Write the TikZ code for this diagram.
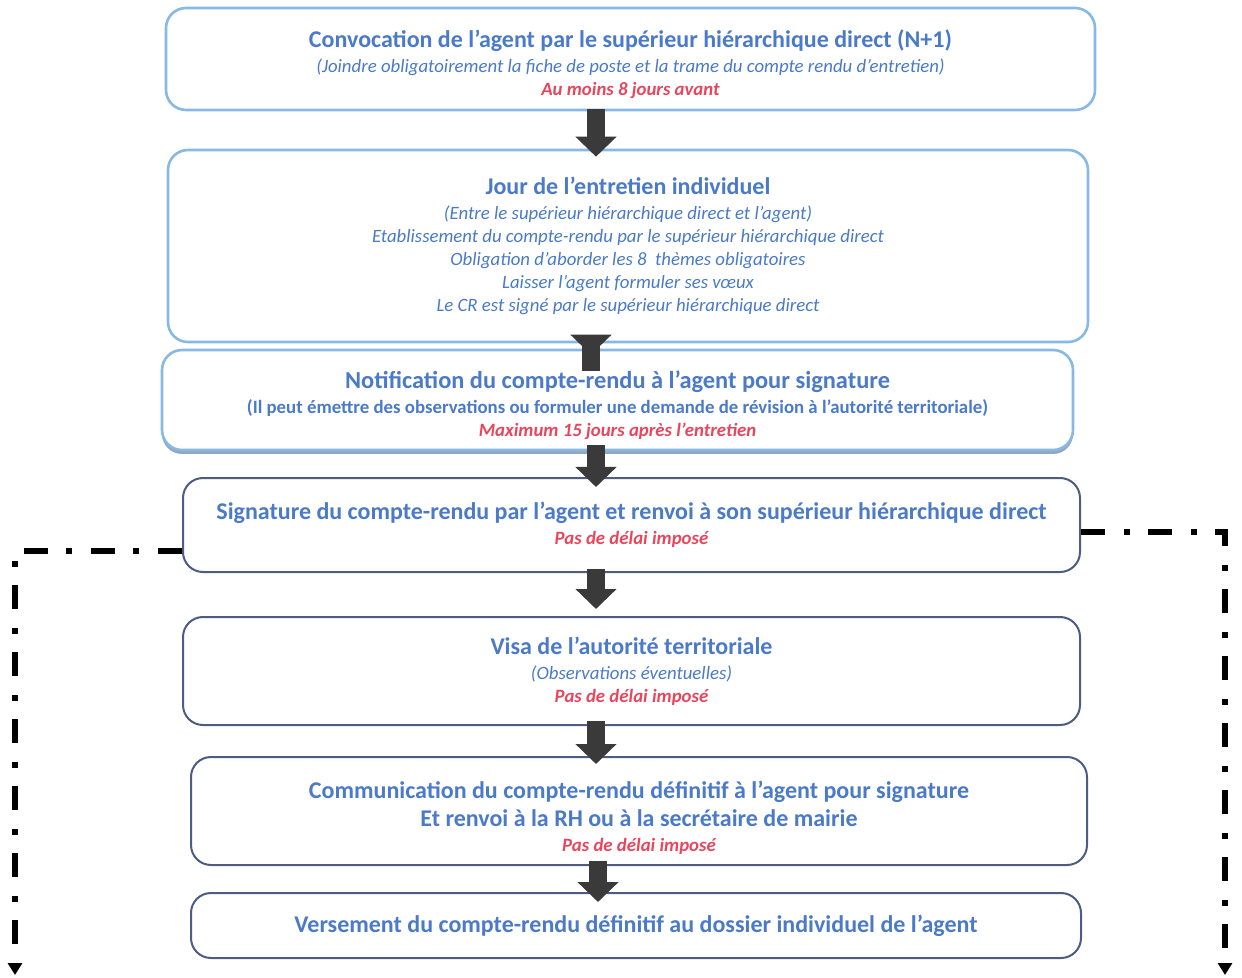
\documentclass[tikz,border=0pt]{standalone}
\usepackage{fontspec}
\setmainfont{Carlito}
\usetikzlibrary{arrows.meta,shadows}

\definecolor{titleblue}{RGB}{74,122,200}
\definecolor{delayred}{RGB}{232,70,92}
\definecolor{lightframe}{RGB}{135,185,228}
\definecolor{darkframe}{RGB}{78,92,130}
\definecolor{arrowgrey}{RGB}{58,58,58}

\newcommand{\etape}[1]{{\fontsize{12}{11.5}\selectfont\bfseries\color{titleblue}#1}}
\newcommand{\precision}[1]{{\itshape\color{titleblue}#1}}
\newcommand{\delai}[1]{{\bfseries\itshape\color{delayred}#1}}

\begin{document}
\begin{tikzpicture}[x=0.5pt,y=-0.5pt,
  lightbox/.style={draw=lightframe,line width=1.3pt,rounded corners=10pt,fill=white,
    align=center,font=\fontsize{9.4}{11.5}\selectfont},
  darkbox/.style={draw=darkframe,line width=1pt,rounded corners=10pt,fill=white,
    align=center,font=\fontsize{9.4}{11.5}\selectfont},
  bigarrow/.style={arrowgrey,line width=9pt,-{Triangle[width=20pt,length=10pt]}},
  dashdot line/.style={black,line width=3.2pt,dash pattern=on 12pt off 9.5pt on 3pt off 9pt,
    -{Triangle[width=7pt,length=6pt]}}]
\useasboundingbox (0,0) rectangle (1242,978);

\node[lightbox,minimum width=464.5pt,minimum height=51pt] (convocation) at (630.5,59)
  {\rule{0pt}{14pt}\etape{Convocation de l’agent par le supérieur hiérarchique direct (N+1)}\\[1pt]
   \precision{(Joindre obligatoirement la fiche de poste et la trame du compte rendu d’entretien)}\\
   \delai{Au moins 8 jours avant}};
\node[lightbox,minimum width=460pt,minimum height=96pt] (entretien) at (628,246)
  {\etape{Jour de l’entretien individuel}\\[1pt]
   \precision{(Entre le supérieur hiérarchique direct et l’agent)}\\
   \precision{Etablissement du compte-rendu par le supérieur hiérarchique direct}\\
   \precision{Obligation d’aborder les 8~ thèmes obligatoires}\\
   \precision{Laisser l’agent formuler ses vœux}\\
   \precision{Le CR est signé par le supérieur hiérarchique direct}};
\node[lightbox,minimum width=455.5pt,minimum height=50pt,
  drop shadow={shadow xshift=0pt,shadow yshift=-2pt,fill=darkframe!60!lightframe,opacity=0.7}]
  (notification) at (617.5,400)
  {\rule{0pt}{14pt}\etape{\fontsize{12.2}{11.5}\selectfont Notification du compte-rendu à l’agent pour signature}\\[1pt]
   {\bfseries\color{titleblue}(Il peut émettre des observations ou formuler une demande de révision à l’autorité territoriale)}\\
   \delai{Maximum 15 jours après l’entretien}};
\node[darkbox,minimum width=448.5pt,minimum height=47pt] (signature) at (631.5,525)
  {\etape{Signature du compte-rendu par l’agent et renvoi à son supérieur hiérarchique direct}\\[1pt]
   \delai{Pas de délai imposé}};
\node[darkbox,minimum width=448.5pt,minimum height=54pt] (visa) at (631.5,671)
  {\etape{Visa de l’autorité territoriale}\\[1pt]
   \precision{(Observations éventuelles)}\\
   \delai{Pas de délai imposé}};
\node[darkbox,minimum width=448pt,minimum height=54pt] (communication) at (639,811)
  {\rule{0pt}{15pt}\etape{Communication du compte-rendu définitif à l’agent pour signature}\\[2.5pt]
   \etape{Et renvoi à la RH ou à la secrétaire de mairie}\\[1pt]
   \delai{Pas de délai imposé}};
\node[darkbox,minimum width=445pt,minimum height=32.5pt] (versement) at (636,925.5)
  {\etape{Versement du compte-rendu définitif au dossier individuel de l’agent}};

\coordinate (axe) at (596,0);
\draw[bigarrow,shorten <=-1pt,shorten >=-4pt] (convocation.south -| axe) -- (entretien.north -| axe);
\draw[bigarrow,shorten <=-14pt,shorten >=-3pt] ([xshift=-2.5pt]entretien.south -| axe) -- ([xshift=-2.5pt]notification.north -| axe);
\draw[bigarrow,shorten <=-3pt,shorten >=-5pt] (notification.south -| axe) -- (signature.north -| axe);
\draw[bigarrow,shorten <=-2pt,shorten >=3.5pt] (signature.south -| axe) -- (visa.north -| axe);
\draw[bigarrow,shorten <=-2.5pt,shorten >=-4pt] (visa.south -| axe) -- (communication.north -| axe);
\draw[bigarrow,shorten <=-2.5pt,shorten >=-5pt] ([xshift=1pt]communication.south -| axe) -- ([xshift=1pt]versement.north -| axe);

\coordinate (coingauche) at (15,551);
\coordinate (basgauche) at (15,975);
\coordinate (coindroit) at (1225,532);
\coordinate (basdroit) at (1225,975);
\draw[dashdot line] (signature.west |- coingauche) -- (coingauche) -- (basgauche);
\draw[dashdot line] (signature.east |- coindroit) -- (coindroit) -- (basdroit);
\end{tikzpicture}
\end{document}
